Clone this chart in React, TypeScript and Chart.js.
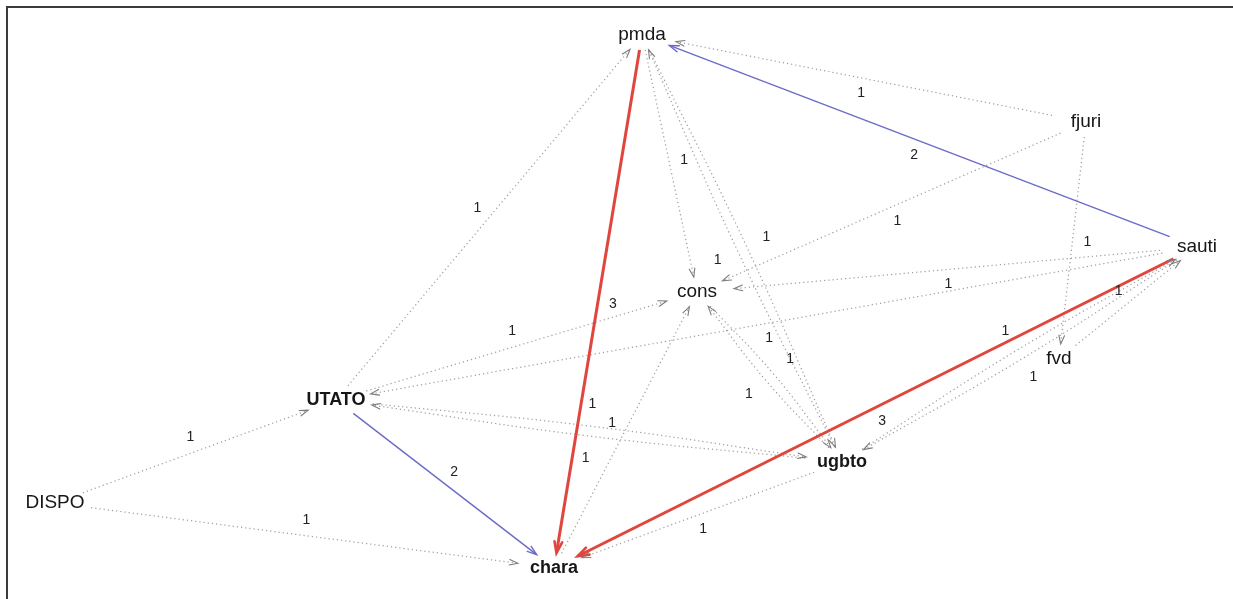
import React, { useEffect, useRef } from "react";
import { Chart, registerables } from "chart.js";

Chart.register(...registerables);

// ---- Nodes (layout coordinates; labels are drawn centred on the vertices) ----
const nodeNames = ["pmda", "fjuri", "sauti", "cons", "UTATO", "fvd", "ugbto", "DISPO", "chara"];
const nodeX = [642, 1086, 1197, 697, 336, 1059, 842, 55, 554];
const nodeY = [35, 122, 247, 292, 400, 359, 462, 503, 568];
const nodeBold = [false, false, false, false, true, false, true, false, true];

// ---- Edges (directed, weighted) ----
const edgeFrom = [
  "DISPO", "DISPO", "UTATO", "UTATO", "pmda", "sauti", "sauti", "fjuri", "pmda", "fjuri",
  "ugbto", "pmda", "UTATO", "sauti", "fjuri", "fvd", "sauti", "ugbto", "cons", "ugbto",
  "chara", "ugbto", "UTATO", "ugbto", "sauti",
];
const edgeTo = [
  "UTATO", "chara", "chara", "pmda", "chara", "chara", "pmda", "pmda", "cons", "cons",
  "pmda", "ugbto", "cons", "cons", "fvd", "sauti", "ugbto", "sauti", "ugbto", "cons",
  "cons", "chara", "ugbto", "UTATO", "UTATO",
];
const edgeWeight = [
  1, 1, 2, 1, 3, 3, 2, 1, 1, 1,
  1, 1, 1, 1, 1, 1, 1, 1, 1, 1,
  1, 1, 1, 1, 1,
];

const W = 1233;
const H = 599;
const RX = 38; // vertex half-width used to trim edges
const RY = 15; // vertex half-height used to trim edges
const LABEL_OFFSET = 15;
const PAIR_LABEL_OFFSET = 27;
const PAIR_BOW = 5;

function idx(name: string) {
  return nodeNames.indexOf(name);
}

function trimDist(ux: number, uy: number) {
  return 1 / Math.sqrt((ux / RX) ** 2 + (uy / RY) ** 2);
}

function hasReverse(i: number) {
  for (let j = 0; j < edgeFrom.length; j++) {
    if (edgeFrom[j] === edgeTo[i] && edgeTo[j] === edgeFrom[i]) return true;
  }
  return false;
}

function unit(dx: number, dy: number) {
  const l = Math.hypot(dx, dy) || 1;
  return [dx / l, dy / l];
}

function edgeGeom(i: number) {
  const a = idx(edgeFrom[i]);
  const b = idx(edgeTo[i]);
  const ax = nodeX[a], ay = nodeY[a], bx = nodeX[b], by = nodeY[b];
  const [ux, uy] = unit(bx - ax, by - ay);
  const px = -uy, py = ux;
  const pair = hasReverse(i);
  const bow = pair ? PAIR_BOW : 0;
  const mx = (ax + bx) / 2 - px * bow;
  const my = (ay + by) / 2 - py * bow;
  const [sx, sy] = unit(mx - ax, my - ay);
  const [ex, ey] = unit(bx - mx, by - my);
  const t1 = trimDist(sx, sy);
  const t2 = trimDist(ex, ey);
  const x1 = ax + sx * t1, y1 = ay + sy * t1;
  const x2 = bx - ex * t2, y2 = by - ey * t2;
  const pts = pair
    ? [{ x: x1, y: y1 }, { x: mx, y: my }, { x: x2, y: y2 }]
    : [{ x: x1, y: y1 }, { x: x2, y: y2 }];
  const lo = pair ? PAIR_LABEL_OFFSET : LABEL_OFFSET;
  return {
    pts,
    pair,
    tx: ex, ty: ey,
    lx: (ax + bx) / 2 - px * lo,
    ly: (ay + by) / 2 - py * lo,
  };
}

function edgeStyle(w: number) {
  if (w >= 3) return { color: "#e0463d", width: 3, dash: [] as number[], order: 0, head: 12, headColor: "#e0463d", headW: 2.6, spread: 0.33 };
  if (w === 2) return { color: "#6b6bc8", width: 1.4, dash: [] as number[], order: 1, head: 10, headColor: "#6b6bc8", headW: 1.4, spread: 0.33 };
  return { color: "#9e9e9e", width: 1.25, dash: [1.2, 3], order: 2, head: 9, headColor: "#7c7c7c", headW: 1.1, spread: 0.32 };
}

const overlay = {
  id: "networkOverlay",
  beforeDraw(chart: any) {
    const ctx = chart.ctx;
    ctx.save();
    ctx.fillStyle = "#ffffff";
    ctx.fillRect(0, 0, chart.width, chart.height);
    ctx.strokeStyle = "#3c3c3c";
    ctx.lineWidth = 2;
    ctx.beginPath();
    ctx.moveTo(7, H + 5);
    ctx.lineTo(7, 7);
    ctx.lineTo(W + 5, 7);
    ctx.stroke();
    ctx.restore();
  },
  afterDatasetsDraw(chart: any) {
    const ctx = chart.ctx;
    const xs = chart.scales.x;
    const ys = chart.scales.y;
    ctx.save();
    // arrowheads
    for (let i = 0; i < edgeFrom.length; i++) {
      const g = edgeGeom(i);
      const st = edgeStyle(edgeWeight[i]);
      const end = g.pts[g.pts.length - 1];
      const X2 = xs.getPixelForValue(end.x), Y2 = ys.getPixelForValue(end.y);
      const X1 = xs.getPixelForValue(end.x - g.tx * 10), Y1 = ys.getPixelForValue(end.y - g.ty * 10);
      const ang = Math.atan2(Y2 - Y1, X2 - X1);
      ctx.strokeStyle = st.headColor;
      ctx.lineWidth = st.headW;
      ctx.setLineDash([]);
      ctx.lineCap = "round";
      ctx.beginPath();
      ctx.moveTo(X2 - st.head * Math.cos(ang - st.spread), Y2 - st.head * Math.sin(ang - st.spread));
      ctx.lineTo(X2, Y2);
      ctx.lineTo(X2 - st.head * Math.cos(ang + st.spread), Y2 - st.head * Math.sin(ang + st.spread));
      ctx.stroke();
    }
    // edge labels
    ctx.fillStyle = "#222222";
    ctx.font = '14px "Liberation Sans", Arial, sans-serif';
    ctx.textAlign = "center";
    ctx.textBaseline = "middle";
    for (let i = 0; i < edgeFrom.length; i++) {
      const g = edgeGeom(i);
      ctx.fillText(String(edgeWeight[i]), xs.getPixelForValue(g.lx), ys.getPixelForValue(g.ly));
    }
    // node labels
    ctx.fillStyle = "#161616";
    ctx.textAlign = "center";
    ctx.textBaseline = "middle";
    for (let n = 0; n < nodeNames.length; n++) {
      ctx.font = nodeBold[n]
        ? 'bold 18px "Liberation Sans", Arial, sans-serif'
        : '19px "Liberation Sans", Arial, sans-serif';
      ctx.fillText(nodeNames[n], xs.getPixelForValue(nodeX[n]), ys.getPixelForValue(nodeY[n]));
    }
    ctx.restore();
  },
};

export default function App() {
  const ref = useRef<HTMLCanvasElement | null>(null);

  useEffect(() => {
    if (!ref.current) return;
    const datasets: any[] = [];
    for (let i = 0; i < edgeFrom.length; i++) {
      const g = edgeGeom(i);
      const st = edgeStyle(edgeWeight[i]);
      datasets.push({
        label: edgeFrom[i] + "->" + edgeTo[i],
        data: g.pts,
        showLine: true,
        tension: g.pair ? 0.45 : 0,
        borderColor: st.color,
        borderWidth: st.width,
        borderDash: st.dash,
        borderCapStyle: "butt",
        pointRadius: 0,
        pointHoverRadius: 0,
        order: st.order,
        clip: false,
      });
    }
    datasets.push({
      label: "nodes",
      data: nodeNames.map((_, n) => ({ x: nodeX[n], y: nodeY[n] })),
      pointRadius: 0,
      showLine: false,
      order: 3,
    });
    const chart = new Chart(ref.current, {
      type: "scatter",
      data: { datasets },
      options: {
        animation: false,
        responsive: false,
        devicePixelRatio: 1,
        layout: { padding: 0 },
        plugins: { legend: { display: false }, tooltip: { enabled: false } },
        events: [],
        scales: {
          x: { type: "linear", min: 0, max: W, display: false },
          y: { type: "linear", min: 0, max: H, reverse: true, display: false },
        },
      },
      plugins: [overlay],
    });
    return () => chart.destroy();
  }, []);

  return (
    <div style={{ position: "absolute", left: 0, top: 0, width: W, height: H, background: "#fff" }}>
      <canvas ref={ref} width={W} height={H} style={{ display: "block" }} />
    </div>
  );
}
